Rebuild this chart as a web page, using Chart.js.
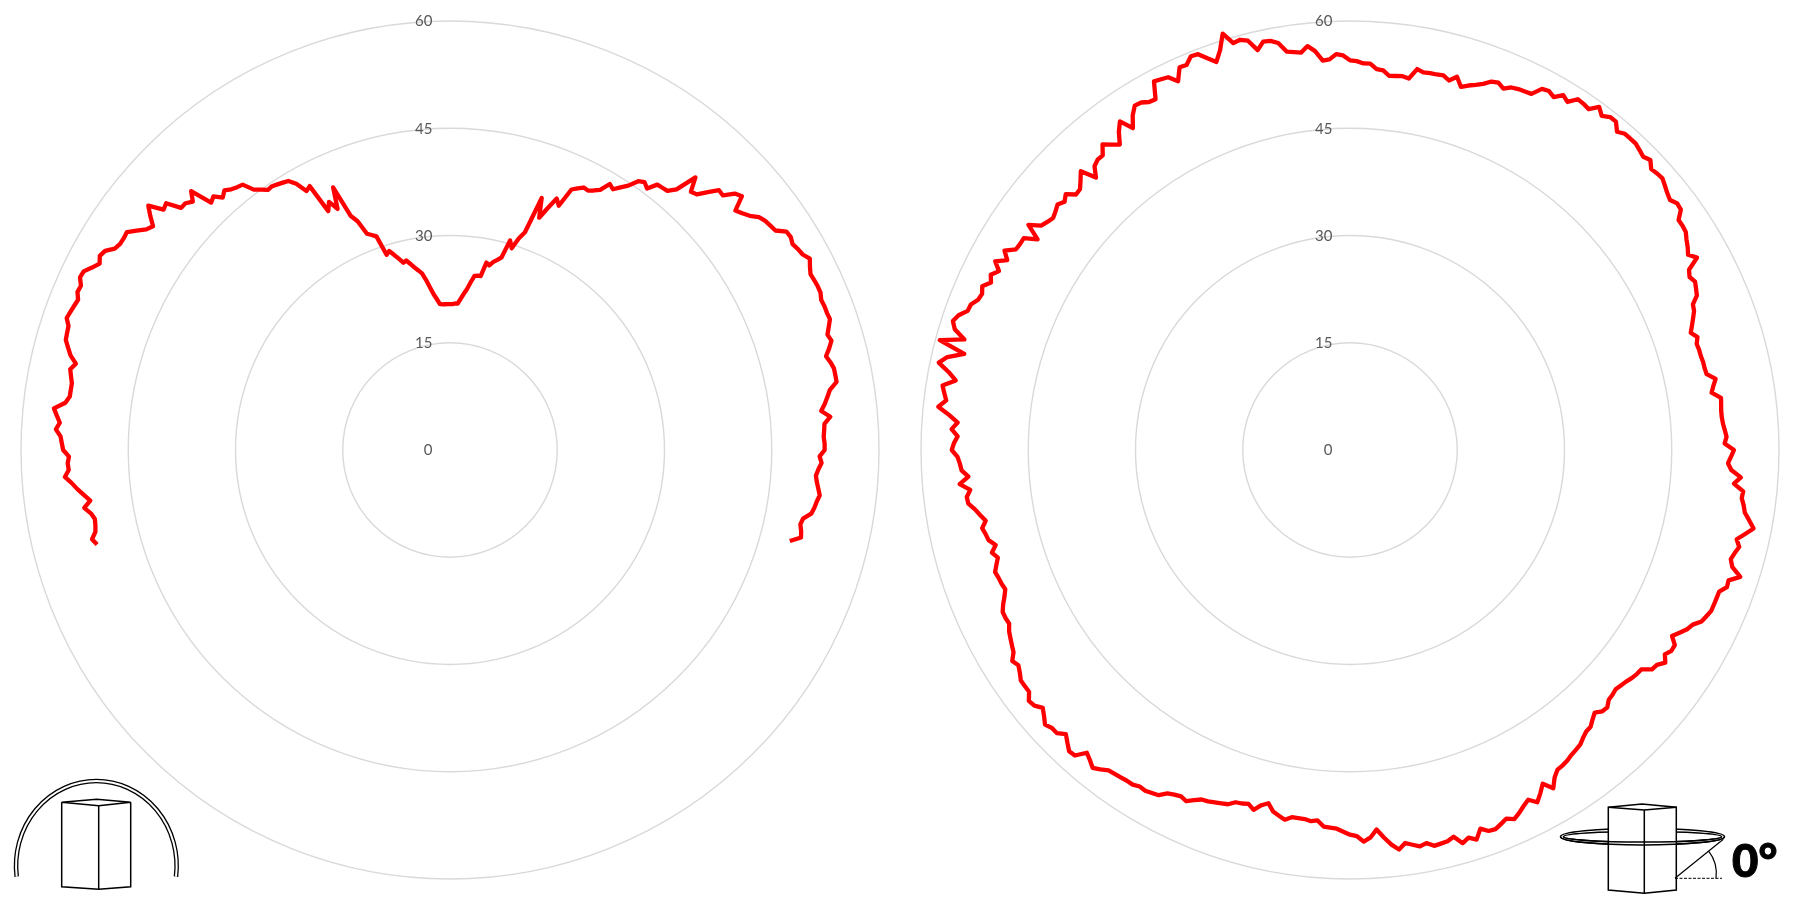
<!DOCTYPE html>
<html>
<head>
<meta charset="UTF-8" />
<title>Radar charts</title>
<script src="https://cdn.jsdelivr.net/npm/chart.js@4"></script>
<style>
  html, body { margin: 0; padding: 0; background: #fff; }
  body { position: relative; width: 1800px; height: 900px; overflow: hidden; }
  canvas { position: absolute; top: 0; }
  #leftChart { left: 0; }
  #rightChart { left: 900px; }
  svg { position: absolute; left: 0; top: 0; }
</style>
</head>
<body>
<canvas id="leftChart" width="900" height="900"></canvas>
<canvas id="rightChart" width="900" height="900"></canvas>

<svg width="1800" height="900" fill="none" stroke="#000" stroke-width="1.5">
  <!-- arch over the box, left -->
  <path d="M16.7 876.6 A80.3 84.8 0 1 1 176 876.6" stroke-width="4.6" />
  <path d="M16.7 876.6 A80.3 84.8 0 1 1 176 876.6" stroke="#fff" stroke-width="2" />
  <path d="M61.7 802.3 L96.7 799.3 L130.7 802.3 L98.7 805.7 Z M61.7 802.3 V886.7 L98.7 889.3 L130.7 886.7 V802.3 M98.7 805.7 V889.3" />

  <!-- ring round the box, right -->
  <ellipse cx="1642.5" cy="836.7" rx="82" ry="8.3" />
  <ellipse cx="1642.5" cy="836.7" rx="79" ry="5.2" />
  <path d="M1608.3 807.3 L1642 804 L1676.3 807.3 V890 L1644.3 893.3 L1608.3 890 Z" fill="#fff" />
  <path d="M1608.3 807.3 L1644.3 810 L1676.3 807.3 M1644.3 810 V893.3" />
  <path d="M1560.5 836.7 A82 8.3 0 0 0 1724.5 836.7 M1563.5 836.7 A79 5.2 0 0 0 1721.5 836.7" />
  <path d="M1675 878.3 L1723.3 839.3 M1708.3 850.7 Q1718 863 1716 878.3" stroke-width="1.2" />
  <path d="M1675 878.3 H1722" stroke-width="1" stroke-dasharray="3 1.5" />
  <text x="1732" y="877" font-family="Lato" font-weight="900" font-size="45.5" fill="#000" stroke="#000" stroke-width="1">0°</text>
</svg>

<script>
const degrees = Array.from({ length: 360 }, (_, i) => i);
const tickLabels = [0, 15, 30, 45, 60];

// left chart: -105° to +105°, one value per degree, nothing read on the underside
const leftValues = [
  51.1,51.6,50.9,50.7,50.6,51.0,51.8,50.8,51.6,52.4,53.1,54.0,53.4,53.5,53.3,54.1,54.3,54.5,55.2,54.7,55.2,55.7,54.2,53.7,53.7,53.7,54.0,54.3,53.7,54.7,
  55.3,55.9,56.0,56.1,56.7,56.5,56.3,56.1,56.6,56.5,57.1,57.0,56.2,55.5,56.0,55.7,54.7,54.4,54.4,54.5,53.5,52.5,52.0,53.2,54.3,52.3,52.6,50.6,50.6,50.0,
  51.2,48.1,48.5,47.5,48.1,47.6,47.3,47.1,45.6,45.0,44.4,44.5,44.3,44.1,43.9,43.0,41.4,41.8,37.5,38.6,37.2,40.2,35.6,34.5,32.4,32.0,31.6,28.7,29.1,28.4,
  27.7,27.0,27.2,26.6,26.0,25.5,25.0,24.0,22.9,21.9,21.2,20.5,20.4,20.4,20.4,20.4,20.4,20.5,20.5,21.2,21.9,22.6,23.6,24.6,24.7,24.7,26.7,26.4,27.0,27.4,
  27.9,30.5,29.5,31.1,32.2,37.5,34.8,36.5,38.2,37.4,40.2,40.7,41.2,41.1,41.5,42.0,43.4,43.0,43.8,44.6,45.9,46.3,45.8,47.1,47.2,47.3,48.3,51.3,49.4,49.7,
  51.0,52.3,52.2,53.6,54.1,52.1,52.6,53.2,54.1,54.5,54.7,54.9,56.1,56.2,55.9,56.2,56.4,57.0,56.5,56.1,56.2,56.3,56.3,56.0,56.1,56.1,56.2,55.7,55.2,55.5,
  54.9,54.2,54.6,54.9,54.9,54.9,53.8,53.3,52.8,52.2,53.4,52.5,52.4,52.3,52.4,52.4,51.7,52.0,51.6,51.3,51.5,51.8,52.1,51.8,51.6,51.3,50.3,50.1,50.4,50.6,
  49.2,
];

// right chart: 0° to 359° clockwise from the top
const rightValues = [
  54.5,54.4,54.1,54.1,53.4,53.3,52.6,52.7,52.8,52.6,54.1,53.8,53.9,53.9,54.0,53.5,54.3,53.1,53.6,54.0,54.5,55.2,55.4,54.9,55.5,55.7,55.8,55.9,57.2,57.4,
  57.0,57.9,57.4,58.5,58.4,58.2,59.3,58.5,59.1,59.1,58.1,58.6,58.6,58.6,58.3,58.0,58.4,57.6,57.8,57.9,57.5,57.1,56.8,57.3,57.2,56.1,56.1,56.0,55.5,55.1,
  54.6,55.5,53.7,53.3,53.7,53.4,53.1,52.1,51.9,51.4,50.9,50.4,51.1,50.7,50.8,50.8,50.9,50.9,51.0,52.1,51.6,51.2,52.4,52.3,52.2,52.2,52.3,52.5,52.7,52.4,
  53.7,53.3,52.9,53.4,54.8,53.9,55.3,55.2,55.6,55.9,56.7,57.5,56.5,55.5,56.1,55.7,55.4,55.9,57.4,56.0,56.1,55.3,55.3,55.3,55.3,55.0,54.7,53.8,53.4,52.7,
  52.0,53.0,53.0,52.5,53.2,52.4,52.2,51.0,50.9,50.7,50.4,50.2,50.0,50.2,50.3,50.9,50.8,50.2,50.7,51.3,51.4,51.8,52.3,52.5,52.7,53.0,53.2,53.3,54.0,55.2,
  53.9,54.9,55.8,54.9,55.4,56.0,56.5,56.0,56.4,56.8,56.7,56.0,57.3,56.7,57.2,56.0,56.4,56.5,56.6,56.0,56.3,55.9,55.5,56.3,55.5,54.4,53.2,54.3,54.8,54.0,
  53.8,53.4,53.0,52.9,52.8,52.0,52.2,52.0,52.0,52.0,52.5,52.1,51.7,50.7,51.2,52.1,51.5,51.7,51.8,52.4,52.6,52.8,53.0,53.1,53.6,54.2,53.9,54.1,54.4,55.2,
  55.4,55.6,55.5,55.8,55.8,55.9,56.0,56.1,56.7,57.2,56.6,56.1,57.5,57.6,56.9,56.2,57.0,57.0,57.4,56.7,56.1,56.8,57.0,56.2,56.2,56.2,55.7,55.3,55.7,54.9,
  54.6,54.3,54.0,53.5,53.6,53.6,53.1,52.5,52.0,52.2,52.3,52.5,52.0,51.5,52.1,51.3,52.1,52.3,52.6,51.9,52.5,53.1,53.9,54.0,53.4,54.8,53.5,54.4,54.6,54.9,
  55.7,55.4,54.9,55.8,55.0,56.3,57.9,56.9,57.3,57.7,56.0,57.2,58.8,57.8,55.6,59.4,56.1,57.8,58.4,57.9,56.9,56.8,56.1,55.9,56.3,55.4,55.9,55.1,56.2,54.8,
  55.8,54.5,54.4,54.4,52.7,54.9,53.4,53.0,52.7,53.0,53.4,52.9,53.5,52.4,52.5,53.3,54.2,52.1,53.4,53.8,53.8,55.0,54.2,53.5,55.0,56.1,54.3,55.8,56.8,56.7,
  56.2,56.1,58.4,58.2,58.0,56.9,58.6,58.5,59.4,59.3,58.3,57.4,58.8,60.9,59.2,59.4,59.0,57.4,58.4,58.3,57.8,56.4,56.2,56.0,56.8,56.0,54.6,54.7,55.4,55.2,
];

// chart.js centres radial tick labels on the axis, these sit left of it
const tickLabelPlugin = {
  id: "tickLabelPlugin",
  afterDraw(chart) {
    const { ctx, scales: { r } } = chart;
    ctx.save();
    ctx.font = '15px Lato';
    ctx.fillStyle = "#595959";
    ctx.textAlign = "right";
    ctx.textBaseline = "middle";
    tickLabels.forEach((t) => {
      ctx.fillText(String(t), r.xCenter - 17.5, r.yCenter - r.getDistanceFromCenterForValue(t) + 0.5);
    });
    ctx.restore();
  },
};

function makeRadar(id, values, startAngle) {
  const data = degrees.map((_, i) => (i < values.length ? values[i] : null));
  return new Chart(document.getElementById(id), {
    type: "radar",
    data: {
      labels: degrees,
      datasets: [{
        data,
        borderColor: "#ff0000",
        borderWidth: 4.3,
        borderJoinStyle: "round",
        borderCapStyle: "butt",
        pointRadius: 0,
        pointHoverRadius: 0,
        fill: false,
        tension: 0,
        spanGaps: false,
      }],
    },
    options: {
      responsive: false,
      animation: false,
      layout: { padding: 21 },
      plugins: { legend: { display: false }, tooltip: { enabled: false } },
      scales: {
        r: {
          min: 0,
          max: 60,
          startAngle,
          ticks: { stepSize: 15, display: false },
          angleLines: { display: false },
          pointLabels: { display: false },
          grid: { circular: true, color: "#d9d9d9", lineWidth: 1.4 },
        },
      },
    },
    plugins: [tickLabelPlugin],
  });
}

makeRadar("leftChart", leftValues, -105);
makeRadar("rightChart", rightValues, 0);
</script>
</body>
</html>
